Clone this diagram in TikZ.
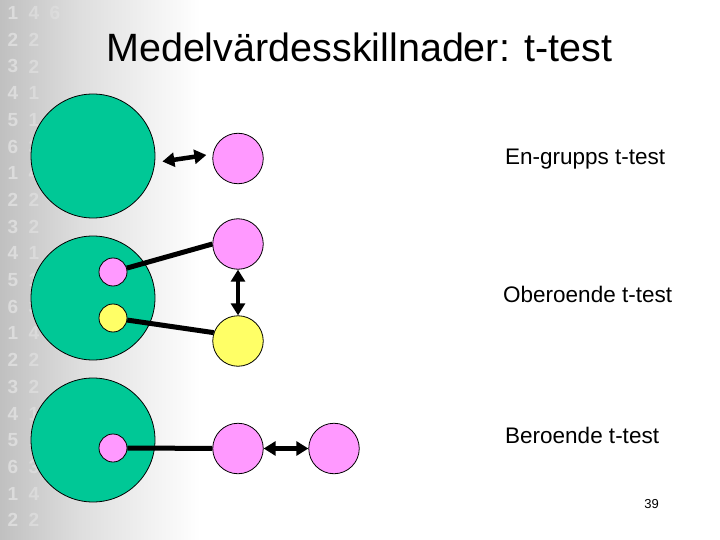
\documentclass[tikz,border=0pt]{standalone}
\usepackage{fontspec}
\setmainfont{Liberation Sans}
\usetikzlibrary{arrows.meta,calc}
\definecolor{grn}{RGB}{0,200,150}
\definecolor{pnk}{RGB}{255,153,255}
\definecolor{ylw}{RGB}{255,255,102}
\definecolor{bggray}{RGB}{192,192,192}
\definecolor{bgmid}{RGB}{222,222,222}
\tikzset{
  bigc/.style={circle,draw=black,line width=0.8pt,fill=grn,minimum size=124pt,inner sep=0pt},
  midp/.style={circle,draw=black,line width=0.8pt,fill=pnk,minimum size=50.5pt,inner sep=0pt},
  midy/.style={circle,draw=black,line width=0.8pt,fill=ylw,minimum size=50.5pt,inner sep=0pt},
  smp/.style={circle,draw=black,line width=0.8pt,fill=pnk,minimum size=28pt,inner sep=0pt},
  smy/.style={circle,draw=black,line width=0.8pt,fill=ylw,minimum size=28pt,inner sep=0pt},
  link/.style={line width=5pt,black},
  dbl/.style={line width=4.5pt,black,{Triangle[length=12pt,width=14pt]}-{Triangle[length=12pt,width=14pt]}},
  lbl/.style={anchor=base west,inner sep=0pt,font=\fontsize{22.5}{26}\selectfont},
  digit/.style={anchor=center,inner sep=0pt,text=white,text opacity=0.4,font=\bfseries\fontsize{19}{22}\selectfont}
}
\begin{document}
\begin{tikzpicture}[x=1pt,y=-1pt]
\useasboundingbox (0,0) rectangle (720,540);
\fill[white] (0,0) rectangle (720,540);
\shade[left color=bggray,right color=bgmid] (0,0) rectangle (80,540);
\shade[left color=bgmid,right color=white] (80,0) rectangle (200,540);
% faint digits
\foreach \i/\a/\b in {0/1/4,1/2/2,2/3/2,3/4/1,4/5/1,5/6/3,6/1/4,7/2/2,8/3/2,9/4/1,10/5/1,11/6/3,12/1/4,13/2/2,14/3/2,15/4/1,16/5/1,17/6/3,18/1/4,19/2/2}{
  \node[digit] (da\i) at (13,13+26.7*\i) {\a};
  \node[digit,text opacity=0.28] (db\i) at (34,13+26.7*\i) {\b};
}
\node[digit,text opacity=0.18] (dc0) at (55,13) {6};
% title
\node[anchor=base west,inner sep=0pt,font=\fontsize{39.5}{46}\selectfont] (title) at (106,62) {Medelvärdesskillnader: t-test};
% row 1
\node[bigc] (G1) at (93,156) {};
\node[midp] (P1) at (238,158.5) {};
\draw[dbl] ($(G1.east)+(7,5.5)$) -- ($(P1.west)+(-6,-3.5)$);
% row 2
\node[bigc] (G2) at (93,298) {};
\node[smp] (s2p) at (113,272) {};
\node[smy] (s2y) at (113,318) {};
\node[midp] (P2) at (238,244) {};
\node[midy] (Y2) at (238,341) {};
\draw[link] (s2p) -- (P2.west);
\draw[link] (s2y) -- (Y2.161);
\draw[dbl] (P2.south) -- (Y2.north);
% row 3
\node[bigc] (G3) at (93,440) {};
\node[smp] (s3p) at (113,448) {};
\node[midp] (P3a) at (238,448.5) {};
\node[midp] (P3b) at (334,448.5) {};
\draw[link] (s3p) -- (P3a);
\draw[dbl] (P3a.east) -- (P3b.west);
% labels
\node[lbl] (l1) at (505,165) {En-grupps t-test};
\node[lbl] (l2) at (503,302) {Oberoende t-test};
\node[lbl] (l3) at (505,443) {Beroende t-test};
\node[inner sep=0pt,font=\fontsize{13}{15}\selectfont] (pg) at (651.5,504) {39};
\end{tikzpicture}
\end{document}
